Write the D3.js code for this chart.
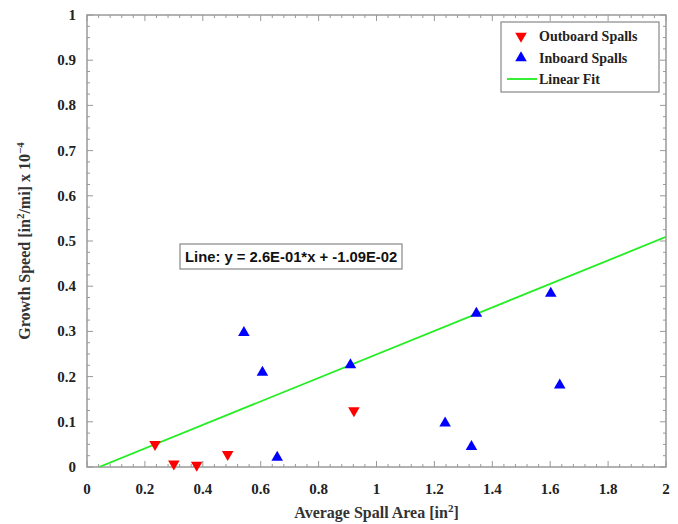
<!DOCTYPE html>
<html><head><meta charset="utf-8">
<script src="https://cdn.jsdelivr.net/npm/d3@7"></script>
<style>body{margin:0;background:#fff}svg{display:block}</style>
</head><body><div id="chart"></div>
<script>
const outboardX = [0.235, 0.300, 0.379, 0.486, 0.922];
const outboardY = [0.050, 0.007, 0.004, 0.028, 0.125];
const inboardX = [0.542, 0.606, 0.657, 0.910, 1.237, 1.328, 1.345, 1.602, 1.633];
const inboardY = [0.297, 0.209, 0.021, 0.226, 0.097, 0.045, 0.340, 0.384, 0.181];
const fitSlope = 0.26, fitIntercept = -0.0109;
const xTicks = [0, 0.2, 0.4, 0.6, 0.8, 1, 1.2, 1.4, 1.6, 1.8, 2];
const yTicks = [0, 0.1, 0.2, 0.3, 0.4, 0.5, 0.6, 0.7, 0.8, 0.9, 1];
const legendLabels = ["Outboard Spalls", "Inboard Spalls", "Linear Fit"];

const W = 678, H = 524;
const m = {l: 87, r: 12, t: 15, b: 57};
const svg = d3.select("#chart").append("svg").attr("width", W).attr("height", H);
const x = d3.scaleLinear().domain([0, 2]).range([m.l, W - m.r]);
const y = d3.scaleLinear().domain([0, 1]).range([H - m.b, m.t]);
const serif = "'Liberation Serif', 'Times New Roman', serif";
const axisColor = "#999";

// frame
svg.append("rect").attr("x", x(0)).attr("y", y(1)).attr("width", x(2) - x(0)).attr("height", y(0) - y(1))
  .attr("fill", "none").attr("stroke", axisColor).attr("stroke-width", 1.5);

// ticks
const xMinor = d3.range(0, 2.0001, 0.04);
const yMinor = d3.range(0, 1.0001, 0.025);
const tg = svg.append("g").attr("stroke", axisColor).attr("stroke-width", 1);
xMinor.forEach(v => {
  const major = xTicks.some(t => Math.abs(t - v) < 1e-6);
  const L = major ? 6 : 3;
  tg.append("line").attr("x1", x(v)).attr("x2", x(v)).attr("y1", y(0)).attr("y2", y(0) - L);
  tg.append("line").attr("x1", x(v)).attr("x2", x(v)).attr("y1", y(1)).attr("y2", y(1) + L);
});
yMinor.forEach(v => {
  const major = yTicks.some(t => Math.abs(t - v) < 1e-6);
  const L = major ? 6 : 3;
  tg.append("line").attr("y1", y(v)).attr("y2", y(v)).attr("x1", x(0)).attr("x2", x(0) + L);
  tg.append("line").attr("y1", y(v)).attr("y2", y(v)).attr("x1", x(2)).attr("x2", x(2) - L);
});

// tick labels
svg.append("g").selectAll("text").data(xTicks).join("text")
  .attr("x", d => x(d)).attr("y", y(0) + 27).attr("text-anchor", "middle")
  .attr("font-family", serif).attr("font-weight", "bold").attr("font-size", 15).attr("fill", "#222")
  .text(d => d3.format("~g")(d));
svg.append("g").selectAll("text").data(yTicks).join("text")
  .attr("x", x(0) - 11).attr("y", d => y(d) + 5).attr("text-anchor", "end")
  .attr("font-family", serif).attr("font-weight", "bold").attr("font-size", 15).attr("fill", "#222")
  .text(d => d3.format("~g")(d));

// axis titles
const xt = svg.append("text").attr("x", (x(0) + x(2)) / 2).attr("y", H - 6).attr("text-anchor", "middle")
  .attr("font-family", serif).attr("font-weight", "bold").attr("font-size", 16).attr("fill", "#333");
xt.append("tspan").text("Average Spall Area [in");
xt.append("tspan").attr("dy", -6).attr("font-size", 11).text("2");
xt.append("tspan").attr("dy", 6).text("]");

const yt = svg.append("text").attr("transform", `translate(30,${(y(0) + y(1)) / 2}) rotate(-90)`)
  .attr("text-anchor", "middle")
  .attr("font-family", serif).attr("font-weight", "bold").attr("font-size", 16).attr("fill", "#333");
yt.append("tspan").text("Growth Speed [in");
yt.append("tspan").attr("dy", -6).attr("font-size", 11).text("2");
yt.append("tspan").attr("dy", 6).text("/mi] x 10");
yt.append("tspan").attr("dy", -6).attr("font-size", 11).text("−4");

// clip
svg.append("clipPath").attr("id", "clip").append("rect")
  .attr("x", x(0)).attr("y", y(1)).attr("width", x(2) - x(0)).attr("height", y(0) - y(1));

// fit line
const x0 = -fitIntercept / fitSlope;
svg.append("line").attr("clip-path", "url(#clip)")
  .attr("x1", x(x0)).attr("y1", y(0)).attr("x2", x(2)).attr("y2", y(fitSlope * 2 + fitIntercept))
  .attr("stroke", "#22ee22").attr("stroke-width", 1.8);

const tri = d3.symbol().type(d3.symbolTriangle).size(58);
svg.append("g").selectAll("path").data(outboardX.map((v, i) => [v, outboardY[i]])).join("path")
  .attr("d", tri).attr("transform", d => `translate(${x(d[0])},${y(d[1])}) rotate(180)`)
  .attr("fill", "#ff0000");
svg.append("g").selectAll("path").data(inboardX.map((v, i) => [v, inboardY[i]])).join("path")
  .attr("d", tri).attr("transform", d => `translate(${x(d[0])},${y(d[1])})`)
  .attr("fill", "#0000ff");

// annotation
const ag = svg.append("g");
ag.append("rect").attr("x", 180).attr("y", 244).attr("width", 222).attr("height", 25)
  .attr("fill", "#fff").attr("stroke", "#888").attr("stroke-width", 1.2);
ag.append("text").attr("x", 185).attr("y", 262)
  .attr("font-family", "'Liberation Sans', Arial, sans-serif").attr("font-weight", "bold").attr("font-size", 14.8)
  .attr("fill", "#111").text("Line: y = 2.6E-01*x + -1.09E-02");

// legend
const lg = svg.append("g");
lg.append("rect").attr("x", 501).attr("y", 22).attr("width", 158).attr("height", 70)
  .attr("fill", "#fff").attr("stroke", "#888").attr("stroke-width", 1.2);
const ly = [36, 58, 79];
lg.append("path").attr("d", tri).attr("transform", `translate(521,${ly[0]}) rotate(180)`).attr("fill", "#ff0000");
lg.append("path").attr("d", tri).attr("transform", `translate(521,${ly[1]})`).attr("fill", "#0000ff");
lg.append("line").attr("x1", 507).attr("x2", 537).attr("y1", ly[2]).attr("y2", ly[2]).attr("stroke", "#22ee22").attr("stroke-width", 1.8);
lg.selectAll("text").data(legendLabels).join("text")
  .attr("x", 539).attr("y", (d, i) => ly[i] + 5)
  .attr("font-family", serif).attr("font-weight", "bold").attr("font-size", 14).attr("fill", "#222")
  .text(d => d);
</script></body></html>
